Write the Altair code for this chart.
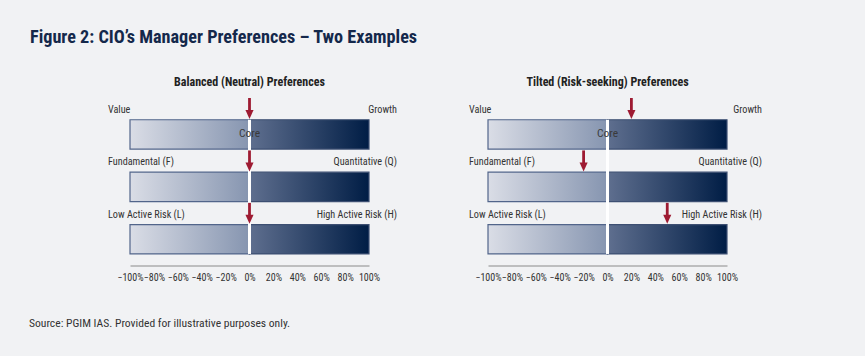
import altair as alt
import pandas as pd

# ---- data ----
rows = [0, 1, 2]
left_labels = ["Value", "Fundamental (F)", "Low Active Risk (L)"]
right_labels = ["Growth", "Quantitative (Q)", "High Active Risk (H)"]
balanced_values = [0, 0, 0]
tilted_values = [20, -20, 50]
panel_titles = ["Balanced (Neutral) Preferences", "Tilted (Risk-seeking) Preferences"]
tick_values = [-100, -80, -60, -40, -20, 0, 20, 40, 60, 80, 100]
fig_title = "Figure 2: CIO\u2019s Manager Preferences \u2013 Two Examples"
source_text = "Source: PGIM IAS. Provided for illustrative purposes only."
core_label = "Core"

FONT = "'Roboto Condensed', 'DejaVu Sans Condensed', sans-serif"
RED = "#9e1b32"
NAVY = "#14284b"
BG = "#f1f2f4"
TXT = "#333333"

W = 239
GAP = 119
H = 173

yscale = alt.Scale(domain=[-0.8, 2.5], nice=False, zero=False, reverse=True)

grad_left = alt.Gradient(
    gradient="linear",
    stops=[alt.GradientStop(offset=0, color="#dadde6"),
           alt.GradientStop(offset=1, color="#8695b0")],
    x1=0, x2=1, y1=0, y2=0,
)
grad_right = alt.Gradient(
    gradient="linear",
    stops=[alt.GradientStop(offset=0, color="#5f6f8f"),
           alt.GradientStop(offset=1, color="#001d45")],
    x1=0, x2=1, y1=0, y2=0,
)


def panel(values, title, dx_left, dx_right, x0, extra=False):
    xscale = alt.Scale(domain=[-100, 100], nice=False, zero=False, range=[x0, x0 + W])
    xaxis = alt.Axis(
        values=tick_values, title=None, grid=False, ticks=False, orient="bottom",
        domainColor="#8a8a8a", domainWidth=1,
        labelExpr="(datum.value < 0 ? '\u2212' + (-datum.value) : datum.value) + '%'",
        labelFont=FONT, labelFontSize=10, labelColor=TXT, labelPadding=7,
        labelFlush=False, labelOverlap=False,
    )

    def X(f):
        return alt.X(f, scale=xscale, axis=xaxis)

    def Y(f):
        return alt.Y(f, scale=yscale, axis=None)

    df = pd.DataFrame({
        "row": rows,
        "left": left_labels,
        "right": right_labels,
        "value": values,
        "lo": [-100] * 3,
        "mid": [0] * 3,
        "hi": [100] * 3,
    })
    base = alt.Chart(df).transform_calculate(
        y1="datum.row - 0.28", y2="datum.row + 0.28",
        s1="datum.row - 0.695", s2="datum.row - 0.44",
        h="datum.row - 0.381", t="datum.row - 0.467",
    )
    bar_l = base.mark_rect(fill=grad_left, stroke="#52658a", strokeWidth=1.2).encode(
        x=X("lo:Q"), x2="mid:Q", y=Y("y1:Q"), y2="y2:Q")
    bar_r = base.mark_rect(fill=grad_right, stroke="#3d4f72", strokeWidth=1.2).encode(
        x=X("mid:Q"), x2="hi:Q", y=Y("y1:Q"), y2="y2:Q")
    gap = alt.Chart(pd.DataFrame({"z": [0], "a": [-0.28], "b": [2.28]})).mark_rule(
        color="white", strokeWidth=3
    ).encode(x=X("z:Q"), y=Y("a:Q"), y2="b:Q")
    shaft = base.mark_rule(color=RED, strokeWidth=2.8).encode(
        x=X("value:Q"), y=Y("s1:Q"), y2="s2:Q")
    head = base.mark_point(
        shape="M-0.9,-1L0.9,-1L0,1Z", size=81, filled=True, color=RED, opacity=1
    ).encode(x=X("value:Q"), y=Y("h:Q"))
    ltxt = base.mark_text(
        align="left", baseline="middle", dx=dx_left, font=FONT, fontSize=10.2, color=TXT
    ).encode(x=X("lo:Q"), y=Y("t:Q"), text="left:N")
    rtxt = base.mark_text(
        align="right", baseline="middle", dx=dx_right, font=FONT, fontSize=10.2, color=TXT
    ).encode(x=X("hi:Q"), y=Y("t:Q"), text="right:N")
    core = alt.Chart(pd.DataFrame({"z": [0], "r": [0], "t": [core_label]})).mark_text(
        align="center", baseline="middle", font=FONT, fontSize=11.5, color="#3a3a3a"
    ).encode(x=X("z:Q"), y=Y("r:Q"), text="t:N")
    ptitle = alt.Chart(pd.DataFrame({"z": [0], "t": [title]})).mark_text(
        align="center", baseline="middle", font=FONT, fontSize=12, fontWeight="bold", color="#222222"
    ).encode(x=X("z:Q"), y=alt.value(-10.8), text="t:N")
    layers = [bar_l, bar_r, gap, shaft, head, ltxt, rtxt, core, ptitle]
    if extra:
        ftitle = alt.Chart(pd.DataFrame({"t": [fig_title]})).mark_text(
            align="left", baseline="middle", font=FONT, fontSize=18.2, fontWeight="bold", color=NAVY
        ).encode(x=alt.value(-100), y=alt.value(-54.5), text="t:N")
        src = alt.Chart(pd.DataFrame({"t": [source_text]})).mark_text(
            align="left", baseline="middle", font=FONT, fontSize=11.6, color=TXT
        ).encode(x=alt.value(-101), y=alt.value(231.5), text="t:N")
        layers += [ftitle, src]
    return alt.layer(*layers)


left = panel(balanced_values, panel_titles[0], -22, 28, 0, extra=True)
right = panel(tilted_values, panel_titles[1], -19, 35, W + GAP)

chart = alt.layer(left, right).resolve_scale(x="independent").resolve_axis(x="independent").properties(
    width=2 * W + GAP,
    height=H,
    autosize=alt.AutoSizeParams(type="none"),
    padding={"left": 130, "top": 92.5, "right": 138, "bottom": 90.5},
    background=BG,
).configure_view(stroke=None)

chart.save("out.html", embed_options={"renderer": "svg", "actions": False})
